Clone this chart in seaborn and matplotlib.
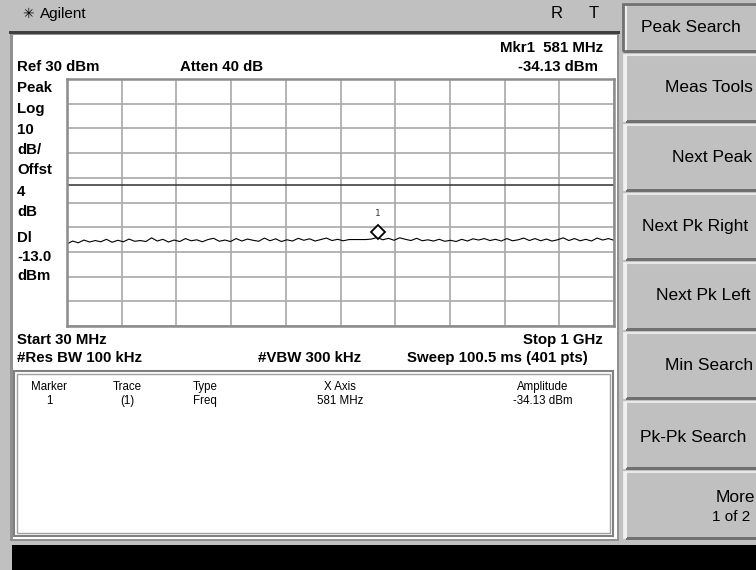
import numpy as np
import pandas as pd
import matplotlib
matplotlib.use("Agg")
import matplotlib.pyplot as plt
import matplotlib.transforms as mtransforms
from matplotlib.patches import Rectangle
import seaborn as sns

# Sweep settings
start_mhz = 30
stop_mhz = 1000
ref_dbm = 30
db_per_div = 10
display_line_dbm = -13.0
marker_freq = 581
marker_amp = -34.13

# Trace amplitude (dBm), one reading every 10 MHz from 30 to 1000 MHz
trace_amp = [
    -36.8, -35.6, -36.3, -35.2, -36.0, -35.4, -35.9, -34.9, -36.1, -35.3,
    -35.9, -34.8, -35.7, -35.4, -35.8, -34.3, -35.6, -34.9, -36.0, -35.2,
    -35.8, -34.6, -35.5, -35.1, -35.9, -35.0, -34.5, -35.7, -35.2, -35.8,
    -34.6, -35.6, -34.8, -35.3, -35.7, -34.4, -35.5, -34.7, -35.8, -35.1,
    -35.6, -34.5, -35.3, -34.7, -35.6, -35.0, -34.4, -35.4, -34.9, -35.5,
    -35.0, -35.0, -35.0, -35.0, -34.8, -34.13, -35.1, -34.5, -35.3, -34.3,
    -34.9, -35.4, -34.5, -35.5, -35.1, -35.6, -34.9, -35.7, -35.3, -35.8,
    -34.9, -35.6, -34.7, -35.2, -34.6, -35.4, -34.9, -35.6, -34.6, -35.5,
    -35.1, -34.4, -35.4, -34.6, -35.5, -34.8, -35.6, -35.1, -34.3, -35.4,
    -34.6, -35.5, -34.9, -35.6, -34.4, -35.2, -34.6, -35.3,
]
trace_freq = list(range(30, 1001, 10))

softkeys = ["Peak Search", "Meas Tools", "Next Peak", "Next Pk Right",
            "Next Pk Left", "Min Search", "Pk-Pk Search", "More"]

table_headers = ["Marker", "Trace", "Type", "X Axis", "Amplitude"]
table_row = ["1", "(1)", "Freq", "581 MHz", "-34.13 dBm"]

left_labels = ["Peak", "Log", "10", "dB/", "Offst", "4", "dB", "Dl", "-13.0", "dBm"]

W, H = 756, 570
GRAY = "#c0c0c0"

sns.set_theme(style="white")
plt.rcParams["font.family"] = ["Liberation Sans", "DejaVu Sans"]

fig = plt.figure(figsize=(W / 100, H / 100), dpi=100)
fig.patch.set_facecolor(GRAY)


def px(x, y):
    # pixel (from top-left) -> figure fraction
    return x / W, 1 - y / H


def rect(x0, y0, x1, y1, fc, ec="none", lw=0):
    fx, fy = px(x0, y1)
    fig.add_artist(Rectangle((fx, fy), (x1 - x0) / W, (y1 - y0) / H,
                             transform=fig.transFigure, facecolor=fc,
                             edgecolor=ec, linewidth=lw))


def txt(x, y, s, size=10, weight="normal", ha="left", family=None):
    fx, fy = px(x, y)
    kw = {}
    if family:
        kw["family"] = family
    fig.text(fx, fy, s, fontsize=size, fontweight=weight, ha=ha,
             va="center", color="black", zorder=20, **kw)


BOLD = 10.8

# title bar
txt(22, 14, "\u2733", size=10, family=["DejaVu Sans"])
txt(40, 14, "Agilent", size=11)
txt(557, 14, "R", size=12, ha="center")
txt(594, 14, "T", size=12, ha="center")

# main screen area
rect(9, 31, 620, 34, "#404040")
rect(10, 34, 619, 541, "#909090")
rect(13, 35, 617, 539, "white")
rect(14, 371, 613, 536, "white", ec="#808080", lw=1.5)
rect(17, 374, 610, 533, "none", ec="#a0a0a0", lw=1)

# bottom status bar
rect(12, 545, 756, 570, "black")

# softkeys
key_tops = [4, 55, 125, 194, 263, 333, 402, 472]
key_bots = [51, 121, 190, 259, 329, 398, 468, 538]
for i, (t, b) in enumerate(zip(key_tops, key_bots)):
    rect(624, t, 760, b, GRAY, ec="#e8e8e8", lw=1.5)
    rect(626, b - 1, 760, b + 2, "#707070")
    rect(624, t, 627, b, "#f0f0f0")
key_text_y = [27, 88, 157, 226, 295, 365, 437, 498]
key_text_x = [741, 753, 752, 748, 751, 753, 746, 755]
for s, x, y in zip(softkeys, key_text_x, key_text_y):
    txt(x, y, s, size=12.5, ha="right")
txt(750, 517, "1 of 2", size=11, ha="right")
# Peak Search active border
rect(623, 4, 760, 51, "none", ec="#707070", lw=2)

# header texts
txt(603, 48, "Mkr1  581 MHz", size=BOLD, weight="bold", ha="right")
txt(17, 67, "Ref 30 dBm", size=BOLD, weight="bold")
txt(180, 67, "Atten 40 dB", size=BOLD, weight="bold")
txt(598, 67, "-34.13 dBm", size=BOLD, weight="bold", ha="right")
label_y = [88, 109, 130, 150, 170, 192, 212, 238, 257, 276]
for s, y in zip(left_labels, label_y):
    txt(17, y, s, size=BOLD, weight="bold")

txt(17, 340, "Start 30 MHz", size=BOLD, weight="bold")
txt(603, 340, "Stop 1 GHz", size=BOLD, weight="bold", ha="right")
txt(17, 358, "#Res BW 100 kHz", size=BOLD, weight="bold")
txt(258, 358, "#VBW 300 kHz", size=BOLD, weight="bold")
txt(588, 358, "Sweep 100.5 ms (401 pts)", size=BOLD, weight="bold", ha="right")

# marker table
col_x = [49, 127, 193, 340, 543]
col_ha = ["center", "center", "left", "center", "center"]
for s, x, ha in zip(table_headers, col_x, col_ha):
    txt(x, 387, s, size=8.3, ha=ha)
for s, x, ha in zip(table_row, col_x, col_ha):
    txt(x, 401, s, size=8.3, ha=ha)

# graticule
ax = fig.add_axes([67 / W, 1 - 326 / H, 547 / W, 247 / H])
ax.set_zorder(10)
ax.set_facecolor("white")
df = pd.DataFrame({"freq": trace_freq, "amp": trace_amp})
sns.lineplot(data=df, x="freq", y="amp", ax=ax, color="black", lw=0.8)
ax.axhline(display_line_dbm, color="#303030", lw=1.1)

x_step = (stop_mhz - start_mhz) / 10
ax.set_xlim(start_mhz, stop_mhz)
ax.set_ylim(ref_dbm - 10 * db_per_div, ref_dbm)
ax.set_xticks([start_mhz + i * x_step for i in range(11)])
ax.set_yticks([ref_dbm - i * db_per_div for i in range(11)])
ax.grid(True, color="#a8a8a8", lw=1.2)
ax.tick_params(length=0, labelbottom=False, labelleft=False)
ax.set_xlabel("")
ax.set_ylabel("")
for sp in ax.spines.values():
    sp.set_color("#8c8c8c")
    sp.set_linewidth(1.8)

# marker diamond and label
off = mtransforms.offset_copy(ax.transData, fig=fig, x=0, y=4, units="points")
ax.plot([marker_freq], [marker_amp], marker="D", ms=7, mfc="white",
        mec="black", mew=1.3, transform=off, zorder=5)
ax.annotate("1", (marker_freq, marker_amp), xytext=(0, 17),
            textcoords="offset points", ha="center", va="center",
            fontsize=6.5, family="DejaVu Sans Mono", color="#333333")

fig.savefig("out.png", dpi=100, facecolor=fig.get_facecolor())
